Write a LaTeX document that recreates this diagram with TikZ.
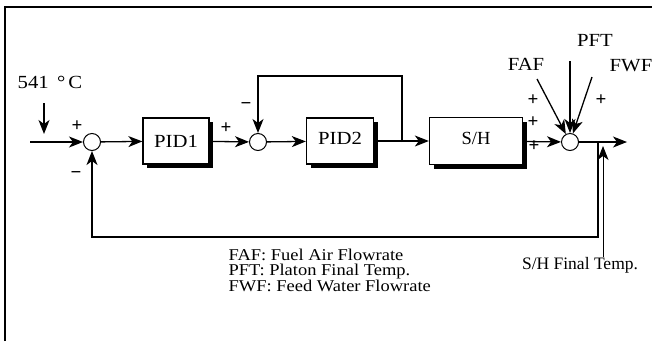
\documentclass[tikz,border=0pt]{standalone}
\usepackage{fontspec}
\setmainfont{Liberation Serif}
\newfontfamily\widefont[FakeStretch=1.12]{Liberation Serif}
\usetikzlibrary{arrows.meta,shadows}
\begin{document}
\begin{tikzpicture}[x=1pt,y=-1pt,
  line width=1.3pt,
  arr/.style={-{Stealth[length=14pt,width=11pt,inset=4pt]}},
  blk/.style={draw,fill=white,line width=1.3pt,inner sep=0pt,
    general shadow={fill=black,shadow xshift=4pt,shadow yshift=-4pt},
    font=\widefont\fontsize{18.5}{18.5}\selectfont},
  sumj/.style={draw,circle,fill=white,minimum size=17pt,inner sep=0pt,line width=1pt},
  lbl/.style={font=\widefont\fontsize{18.5}{18.5}\selectfont,inner sep=0pt},
  sgn/.style={font=\bfseries\fontsize{19}{19}\selectfont,inner sep=0pt}]
\useasboundingbox (0,0) rectangle (652,341);
% frame
\draw[line width=1.8pt] (5,341) -- (5,7) -- (652,7);
% nodes
\node[sumj] (s1) at (92,142) {};
\node[blk,minimum width=66pt,minimum height=46pt] (pid1) at (176,141) {PID1};
\node[sumj] (s2) at (258,142) {};
\node[blk,minimum width=67pt,minimum height=46pt] (pid2) at (340,141) {\raisebox{5pt}{PID2}};
\node[blk,minimum width=93pt,minimum height=47pt] (sh) at (476,141) {\raisebox{6pt}{\fontsize{18.5}{18.5}\rmfamily S/H}};
\node[sumj] (s3) at (570,142) {};
% texts
\node[lbl] (t541) at (50,82) {541 \,°\,C};
\node[lbl] (faf) at (526,64) {FAF};
\node[lbl] (pft) at (595,40) {PFT};
\node[lbl] (fwf) at (631,66) {FWF};
\node[font=\fontsize{17.5}{17.5}\selectfont,inner sep=0pt] (fin) at (580,265) {S/H Final Temp.};
\node[font=\widefont\fontsize{16.5}{15.5}\selectfont,align=left,anchor=north west,inner sep=0pt] (leg) at (228,248)
  {FAF: Fuel Air Flowrate\\PFT: Platon Final Temp.\\FWF: Feed Water Flowrate};
% signs
\node[sgn] (p1) at (77,126) {+};
\node[sgn] (m1) at (76,175) {−};
\node[sgn] (p2) at (226,128) {+};
\node[sgn] (m2) at (246,106) {−};
\node[sgn] (p3) at (533,100) {+};
\node[sgn] (p4) at (533,122) {+};
\node[sgn] (p5) at (534,146) {+};
\node[sgn] (p6) at (601,100) {+};
% coordinates
\coordinate (in) at (30,142);
\coordinate (t541a) at (44,103);
\coordinate (t541b) at (44,134);
\coordinate (b1) at (402,142);
\coordinate (u1) at (258,76);
\coordinate (b2) at (598,142);
\coordinate (d2) at (598,237);
\coordinate (out) at (627,142);
\coordinate (fa) at (537,79);
\coordinate (pf) at (570,61);
\coordinate (fw) at (592,77);
\coordinate (fin1) at (603,257);
\coordinate (fin2) at (603,146);
% connectors
\draw[arr] (in) -- (s1);
\draw[arr] (t541a) -- (t541b);
\draw[arr] (s1) -- (pid1);
\draw[arr] (pid1) -- (s2);
\draw[arr] (s2) -- (pid2);
\draw[arr] (pid2) -- (sh);
\draw[arr] (b1) -- (b1 |- u1) -- (u1) -- (s2);
\draw[arr] (sh) -- (s3);
\draw[arr] (s3) -- (out);
\draw[arr] (b2) -- (d2) -| (s1);
\draw[arr] (fa) -- (s3);
\draw[arr] (pf) -- (s3);
\draw[arr] (fw) -- (s3);
\draw[arr,line width=1pt] (fin1) -- (fin2);
\end{tikzpicture}
\end{document}
